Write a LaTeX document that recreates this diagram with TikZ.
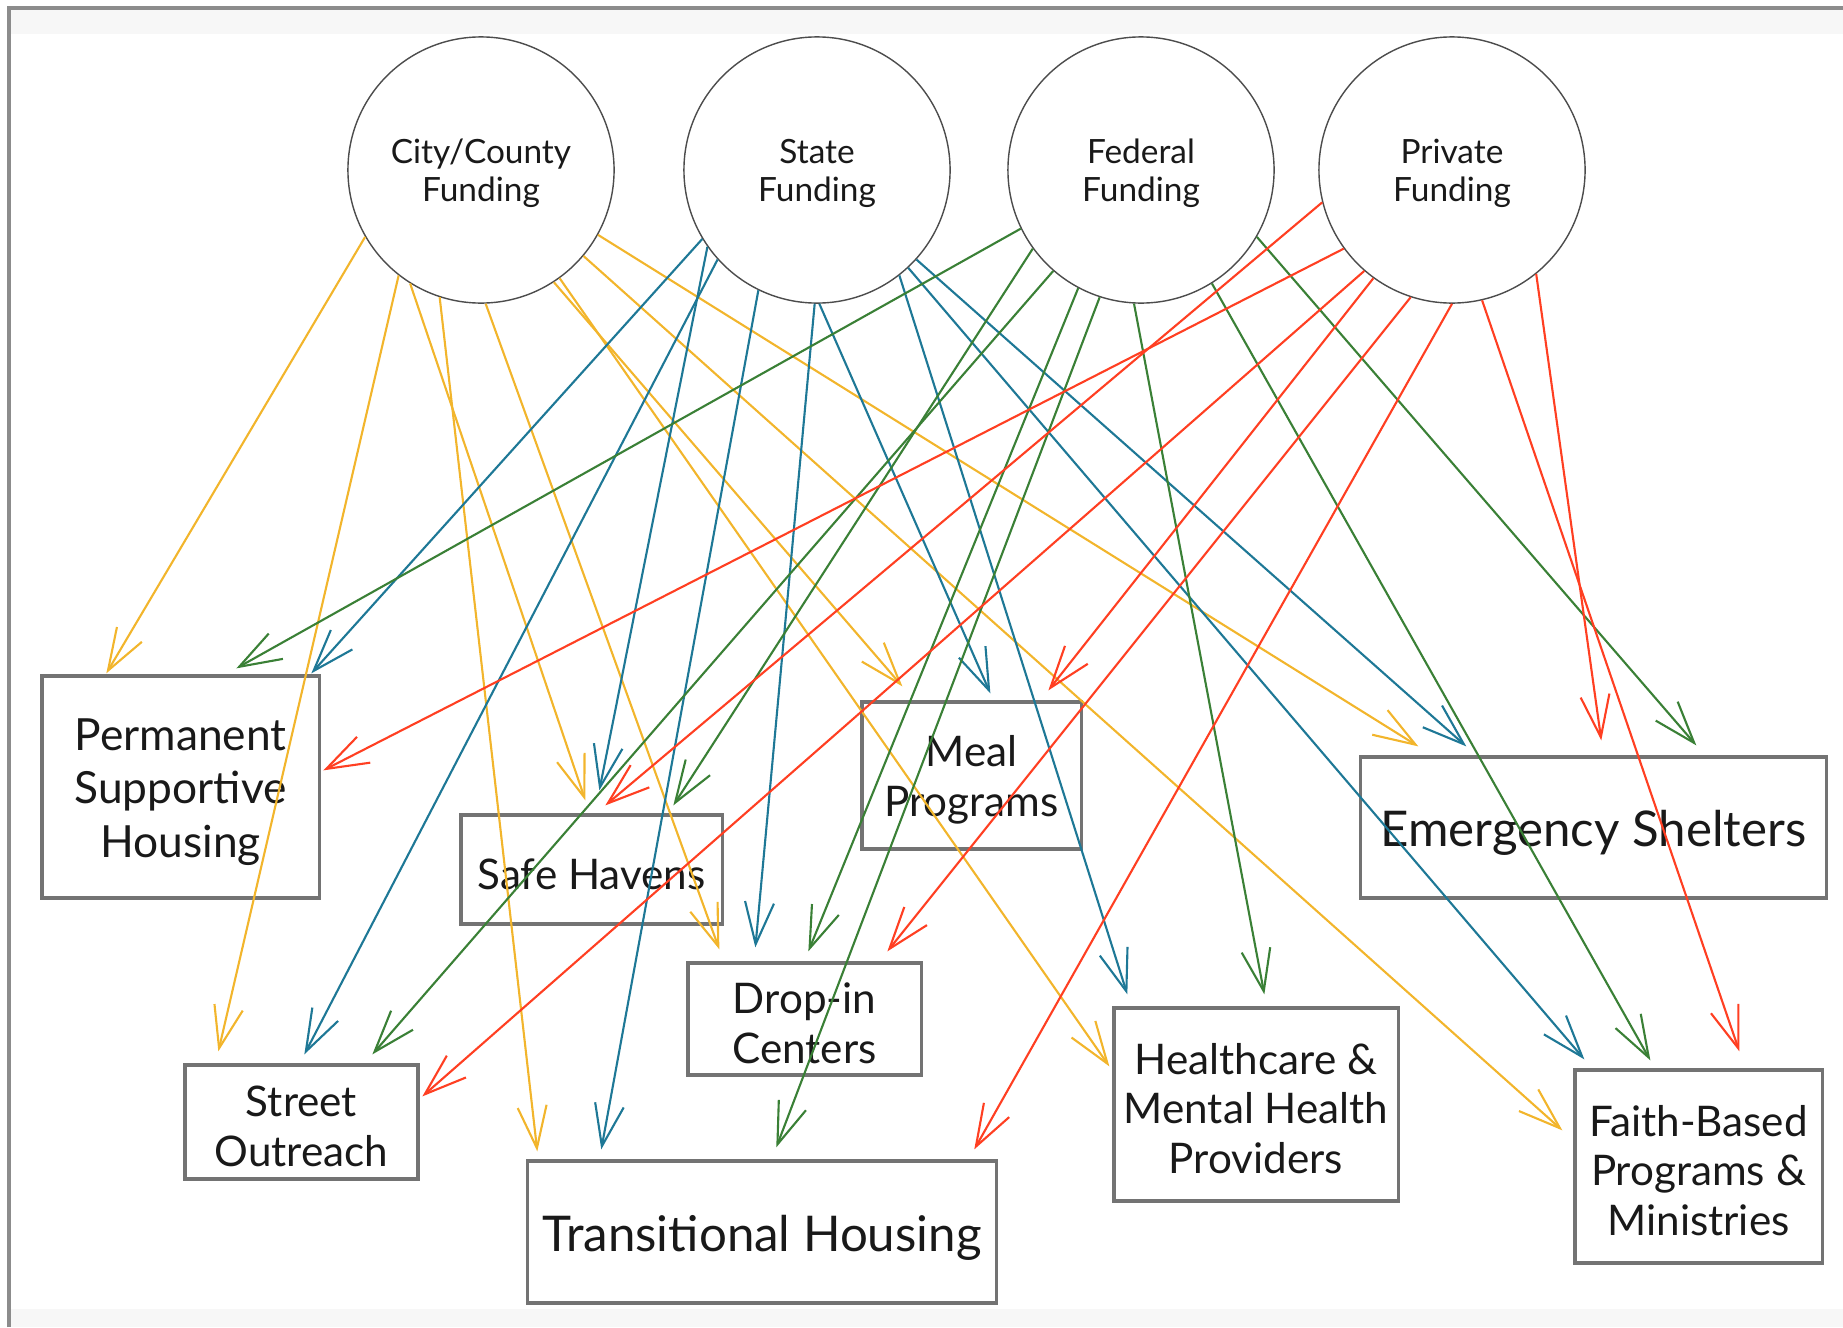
\documentclass[tikz,border=0pt]{standalone}
\usepackage{fontspec}
\setmainfont{Lato}
\usetikzlibrary{arrows.meta,calc}
\definecolor{citycol}{HTML}{F2B52C}
\definecolor{statecol}{HTML}{1E7896}
\definecolor{fedcol}{HTML}{3A8036}
\definecolor{privcol}{HTML}{FF3F22}
\newcommand{\topgap}{\rule{0pt}{0.93em}}

\begin{document}
\begin{tikzpicture}[x=0.01cm,y=-0.01cm,
  fund/.style={draw=black!70, circle, minimum size=2.66cm, inner sep=0pt,
    align=center, text=black!90, font=\fontsize{9.5}{11}\selectfont},
  prog/.style={draw=black!55, line width=0.9pt, rectangle, inner sep=0pt,
    align=center, text=black!90, font=\fontsize{12}{14.2}\selectfont,
    execute at begin node={\rule{0pt}{0.97em}}},
  flow/.style={line width=0.6pt, -{Straight Barb[length=0.42cm,width=0.29cm]}}]
\useasboundingbox (0,0) rectangle (1843,1327);
\fill[black!3] (9,8) rectangle (1843,34);
\fill[black!3] (9,1309) rectangle (1843,1327);
\draw[black!45, line width=0.9pt] (9,1327) -- (9,8) -- (1843,8);

\node[fund] (city) at (481,170) {\topgap City/County\\Funding};
\node[fund] (state) at (817,170) {\topgap State\\Funding};
\node[fund] (fed) at (1141,170) {\topgap Federal\\Funding};
\node[fund] (priv) at (1452,170) {\topgap Private\\Funding};

\node[prog, minimum width=2.77cm, minimum height=2.22cm,
  font=\fontsize{12.6}{15.2}\selectfont] (psh) at (180.5,787)
{\topgap Permanent\\Supportive\\Housing};
\node[prog, minimum width=2.61cm, minimum height=1.09cm] (safe) at (591.5,869.5)
{Safe Havens};
\node[prog, minimum width=2.19cm, minimum height=1.47cm] (meal) at (971.5,775.5)
{\topgap Meal\\Programs};
\node[prog, minimum width=4.65cm, minimum height=1.41cm,
  font=\fontsize{14}{16.8}\selectfont] (shelter) at (1593.5,827.5)
{Emergency Shelters};
\node[prog, minimum width=2.33cm, minimum height=1.14cm] (street) at (301.5,1122)
{\topgap Street\\Outreach};
\node[prog, minimum width=2.33cm, minimum height=1.12cm] (dropin) at (804.5,1019)
{\topgap Drop-in\\Centers};
\node[prog, minimum width=4.68cm, minimum height=1.42cm,
  font=\fontsize{14}{16.8}\selectfont] (trans) at (762,1232)
{Transitional Housing};
\node[prog, minimum width=2.84cm, minimum height=1.93cm] (health) at (1256,1104.5)
{\topgap Healthcare \&\\Mental Health\\Providers};
\node[prog, minimum width=2.47cm, minimum height=1.93cm] (faith) at (1698.5,1166.5)
{\topgap Faith-Based\\Programs \&\\Ministries};

\draw[flow, citycol] (city.210) -- ($(psh.north west)+(66,-1)$);
\draw[flow, citycol] (city.232) -- ($(street.north west)+(35,-12)$);
\draw[flow, citycol] (city.238) -- ($(safe.north west)+(126,-13)$);
\draw[flow, citycol] (city.252) -- ($(trans.north west)+(11,-8)$);
\draw[flow, citycol] (city.272) -- ($(dropin.north west)+(33,-12)$);
\draw[flow, citycol] (city.303) -- ($(meal.north west)+(42,-14)$);
\draw[flow, citycol] (city.306) -- ($(health.north west)+(-3,60)$);
\draw[flow, citycol] (city.320) -- ($(faith.north west)+(-11,62)$);
\draw[flow, citycol] (city.331) -- ($(shelter.north west)+(59,-9)$);

\draw[flow, statecol] (state.211) -- ($(psh.north west)+(271,-1)$);
\draw[flow, statecol] (state.215) -- ($(safe.north west)+(140,-23)$);
\draw[flow, statecol] (state.222) -- ($(street.north west)+(121,-9)$);
\draw[flow, statecol] (state.244) -- ($(trans.north west)+(75,-10)$);
\draw[flow, statecol] (state.269) -- ($(dropin.north west)+(69,-14)$);
\draw[flow, statecol] (state.271) -- ($(meal.north west)+(130,-7)$);
\draw[flow, statecol] (state.308) -- ($(health.north west)+(15,-12)$);
\draw[flow, statecol] (state.313) -- ($(faith.north west)+(11,-9)$);
\draw[flow, statecol] (state.318) -- ($(shelter.north west)+(107,-9)$);

\draw[flow, fedcol] (fed.206) -- ($(psh.north west)+(196,-6)$);
\draw[flow, fedcol] (fed.216) -- ($(safe.north west)+(214,-8)$);
\draw[flow, fedcol] (fed.229) -- ($(street.north west)+(189,-9)$);
\draw[flow, fedcol] (fed.242) -- ($(dropin.north west)+(122,-10)$);
\draw[flow, fedcol] (fed.252) -- ($(trans.north west)+(250,-12)$);
\draw[flow, fedcol] (fed.267) -- ($(health.north west)+(152,-12)$);
\draw[flow, fedcol] (fed.302) -- ($(faith.north west)+(77,-8)$);
\draw[flow, fedcol] (fed.330) -- ($(shelter.north west)+(337,-10)$);

\draw[flow, privcol] (priv.194) -- ($(safe.north west)+(146,-8)$);
\draw[flow, privcol] (priv.216) -- ($(psh.north west)+(283,96)$);
\draw[flow, privcol] (priv.229) -- ($(street.north west)+(239,33)$);
\draw[flow, privcol] (priv.234) -- ($(meal.north west)+(188,-10)$);
\draw[flow, privcol] (priv.252) -- ($(dropin.north west)+(201,-10)$);
\draw[flow, privcol] (priv.270) -- ($(trans.north west)+(448,-10)$);
\draw[flow, privcol] (priv.283) -- ($(faith.north west)+(166,-17)$);
\draw[flow, privcol] (priv.309) -- ($(shelter.north west)+(242,-15)$);
\end{tikzpicture}
\end{document}
